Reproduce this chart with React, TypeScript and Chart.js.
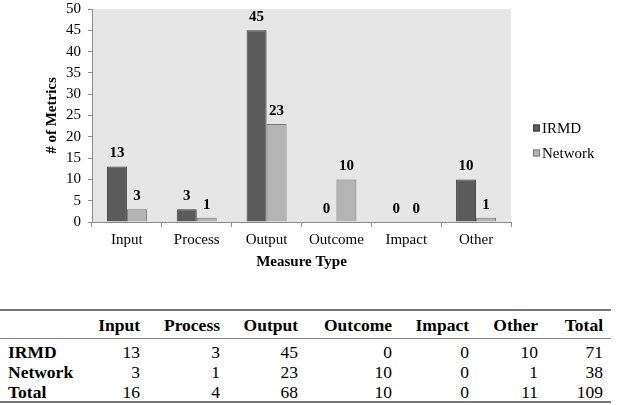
import React, { useEffect, useRef } from "react";
import { Chart, registerables } from "chart.js";

Chart.register(...registerables);

// Measure types on the x axis
const categories = ["Input", "Process", "Output", "Outcome", "Impact", "Other"];
// Number of metrics per measure type
const irmdValues = [13, 3, 45, 0, 0, 10];
const networkValues = [3, 1, 23, 10, 0, 1];
const seriesNames = ["IRMD", "Network"];
// Value axis range
const yMin = 0;
const yMax = 50;
const yStep = 5;

const FONT = "'Liberation Serif', 'Times New Roman', serif";
const seriesFill = ["#5b5b5b", "#b4b4b4"];
const seriesBorder = ["#3c3c3c", "#767676"];

// Gray backdrop behind the plot region
const plotBackground = {
  id: "plotBackground",
  beforeDraw(chart: any) {
    const { ctx, chartArea } = chart;
    ctx.save();
    ctx.fillStyle = "#e6e6e6";
    ctx.fillRect(chartArea.left, chartArea.top, chartArea.right - chartArea.left, chartArea.bottom - chartArea.top);
    ctx.restore();
  },
};

// Bold value printed above each bar
const barValueLabels = {
  id: "barValueLabels",
  afterDatasetsDraw(chart: any) {
    const { ctx } = chart;
    ctx.save();
    ctx.font = `bold 15px ${FONT}`;
    ctx.fillStyle = "#000";
    ctx.textAlign = "center";
    ctx.textBaseline = "middle";
    chart.data.datasets.forEach((ds: any, i: number) => {
      const meta = chart.getDatasetMeta(i);
      meta.data.forEach((bar: any, j: number) => {
        ctx.fillText(String(ds.data[j]), bar.x, bar.y - 13);
      });
    });
    ctx.restore();
  },
};

// Series key to the right of the plot
const sideLegend = {
  id: "sideLegend",
  afterDraw(chart: any) {
    const { ctx, chartArea } = chart;
    const x = chartArea.right + 22;
    const rows = [128, 153];
    ctx.save();
    ctx.font = `15px ${FONT}`;
    ctx.textBaseline = "middle";
    ctx.textAlign = "left";
    chart.data.datasets.forEach((ds: any, i: number) => {
      const y = rows[i];
      ctx.fillStyle = ds.backgroundColor;
      ctx.fillRect(x, y - 3.5, 7, 7);
      ctx.strokeStyle = ds.borderColor;
      ctx.lineWidth = 1;
      ctx.strokeRect(x + 0.5, y - 3, 6, 6);
      ctx.fillStyle = "#000";
      ctx.fillText(ds.label, x + 9, y + 1);
    });
    ctx.restore();
  },
};

const rowLabels = ["IRMD", "Network", "Total"];
const columnRights = [140, 220, 298, 392, 469, 538, 603];
const headerCells = [...categories, "Total"];

function sum(a: number[]) {
  return a.reduce((s, v) => s + v, 0);
}

export default function App() {
  const canvasRef = useRef<HTMLCanvasElement | null>(null);

  useEffect(() => {
    const canvas = canvasRef.current;
    if (!canvas) return;
    const chart = new Chart(canvas, {
      type: "bar",
      data: {
        labels: categories,
        datasets: [
          {
            label: seriesNames[0],
            data: irmdValues,
            backgroundColor: seriesFill[0],
            borderColor: seriesBorder[0],
            borderWidth: 1,
          },
          {
            label: seriesNames[1],
            data: networkValues,
            backgroundColor: seriesFill[1],
            borderColor: seriesBorder[1],
            borderWidth: 1,
          },
        ],
      },
      options: {
        responsive: false,
        animation: false,
        devicePixelRatio: 1,
        layout: { padding: { top: 9, right: 107, bottom: 8, left: 0 } },
        datasets: { bar: { barPercentage: 1, categoryPercentage: 0.573 } },
        plugins: {
          legend: { display: false },
          tooltip: { enabled: false },
        },
        scales: {
          x: {
            afterFit(scale: any) {
              scale.height = 50;
            },
            grid: {
              drawOnChartArea: false,
              drawTicks: true,
              tickLength: 5,
              color: "#8a8a8a",
              offset: true,
            },
            border: { color: "#8a8a8a", width: 1 },
            ticks: { color: "#000", font: { family: FONT, size: 15 }, padding: 4 },
            title: {
              display: true,
              text: "Measure Type",
              color: "#000",
              font: { family: FONT, size: 15, weight: "bold" },
              padding: { top: 0, bottom: 1 },
            },
          },
          y: {
            min: yMin,
            max: yMax,
            afterFit(scale: any) {
              scale.width = 92;
              scale.paddingTop = 0;
              scale.paddingBottom = 0;
            },
            grid: {
              drawOnChartArea: false,
              drawTicks: true,
              tickLength: 4,
              color: "#8a8a8a",
            },
            border: { color: "#8a8a8a", width: 1 },
            ticks: {
              stepSize: yStep,
              autoSkip: false,
              color: "#000",
              font: { family: FONT, size: 15 },
              padding: 7,
            },
            title: {
              display: true,
              text: "# of Metrics",
              color: "#000",
              font: { family: FONT, size: 15, weight: "bold" },
              padding: { top: 43, bottom: 0 },
            },
          },
        },
      },
      plugins: [plotBackground, barValueLabels, sideLegend],
    });
    return () => chart.destroy();
  }, []);

  const rows = [irmdValues, networkValues, irmdValues.map((v, i) => v + networkValues[i])];
  const rowCenters = [352, 372, 392];
  const cellFont = { fontFamily: FONT, fontSize: 17.5, lineHeight: "20px", color: "#000" };

  const textAt = (text: string | number, right: number, center: number, bold: boolean, key: string) => (
    <div
      key={key}
      style={{
        ...cellFont,
        position: "absolute",
        right: 618 - right,
        top: center - 10,
        fontWeight: bold ? "bold" : "normal",
        whiteSpace: "nowrap",
        textAlign: "right",
      }}
    >
      {text}
    </div>
  );

  return (
    <div style={{ position: "absolute", left: 0, top: 0, width: 618, height: 405, background: "#fff", overflow: "hidden" }}>
      <canvas ref={canvasRef} width={618} height={280} style={{ position: "absolute", left: 0, top: 0 }} />
      <div style={{ position: "absolute", left: 0, top: 309, width: 611, height: 2, background: "#777" }} />
      <div style={{ position: "absolute", left: 0, top: 338, width: 611, height: 1, background: "#888" }} />
      <div style={{ position: "absolute", left: 0, top: 401, width: 611, height: 2, background: "#777" }} />
      {headerCells.map((h, i) => textAt(h, columnRights[i], 325, true, `h${i}`))}
      {rows.map((r, ri) => (
        <React.Fragment key={`r${ri}`}>
          <div
            style={{
              ...cellFont,
              position: "absolute",
              left: 8,
              top: rowCenters[ri] - 10,
              fontWeight: "bold",
              whiteSpace: "nowrap",
            }}
          >
            {rowLabels[ri]}
          </div>
          {[...r, sum(r)].map((v, ci) => textAt(v, columnRights[ci], rowCenters[ri], false, `c${ri}-${ci}`))}
        </React.Fragment>
      ))}
    </div>
  );
}
